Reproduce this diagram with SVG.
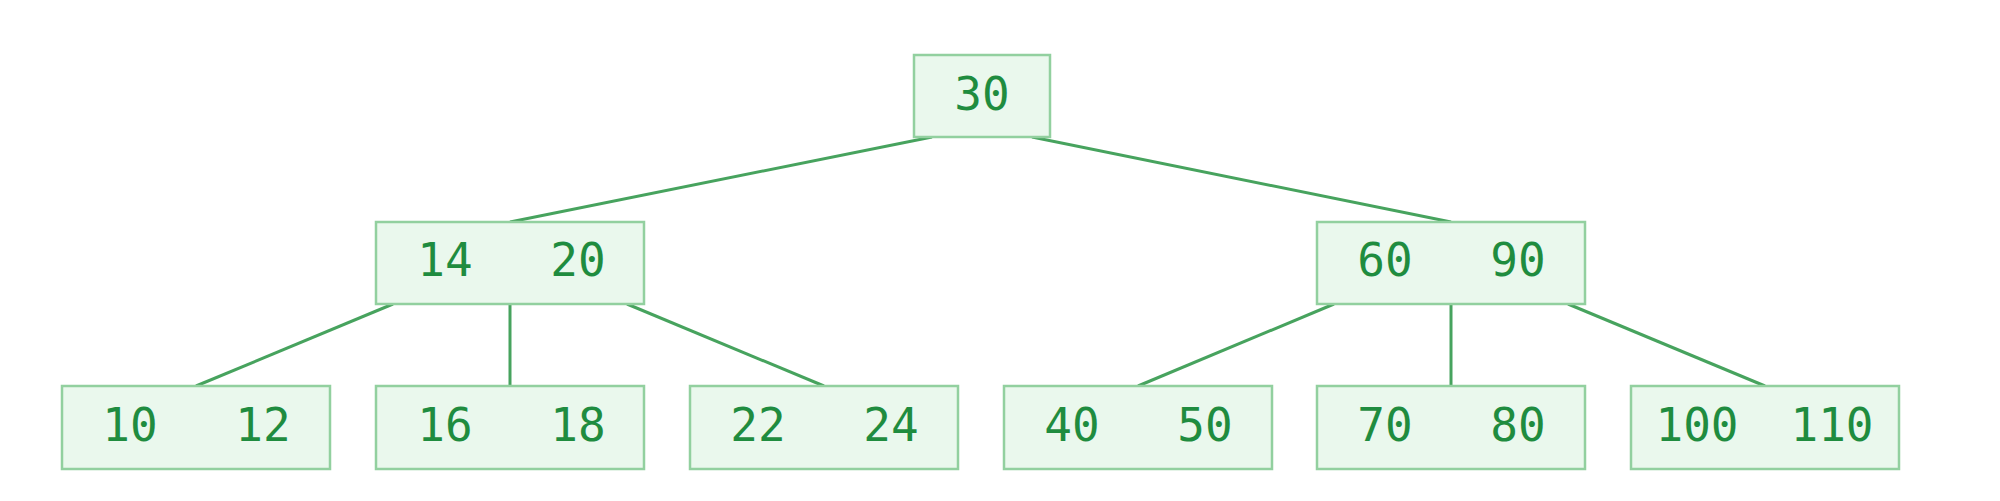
<svg xmlns="http://www.w3.org/2000/svg" width="2000" height="501" viewBox="0 0 2000 501">
<style>
.box{fill:#eaf8ed;stroke:#92d09f;stroke-width:2.5}
.t{font-family:"DejaVu Sans Mono","Liberation Mono",monospace;font-size:46px;fill:#1f8c3f;text-anchor:middle;dominant-baseline:central}
.edge{stroke:#47a35e;stroke-width:3;fill:none}
</style>
<rect width="2000" height="501" fill="#ffffff"/>
<g id="connectors">
<line class="edge" x1="932" y1="137" x2="510" y2="222"/>
<line class="edge" x1="1032" y1="137" x2="1451" y2="222"/>
<line class="edge" x1="393" y1="304" x2="196" y2="386"/>
<line class="edge" x1="510" y1="304" x2="510" y2="386"/>
<line class="edge" x1="627" y1="304" x2="824" y2="386"/>
<line class="edge" x1="1334" y1="304" x2="1138" y2="386"/>
<line class="edge" x1="1451" y1="304" x2="1451" y2="386"/>
<line class="edge" x1="1568" y1="304" x2="1765" y2="386"/>
</g>
<g id="n30"><rect class="box" x="914" y="55" width="136" height="82"/><text class="t" x="982" y="94">30</text></g>
<g id="n14_20"><rect class="box" x="376" y="222" width="268" height="82"/><text class="t" x="445" y="260">14</text><text class="t" x="578" y="260">20</text></g>
<g id="n60_90"><rect class="box" x="1317" y="222" width="268" height="82"/><text class="t" x="1385" y="260">60</text><text class="t" x="1518" y="260">90</text></g>
<g id="n10_12"><rect class="box" x="62" y="386" width="268" height="83"/><text class="t" x="130" y="425">10</text><text class="t" x="263" y="425">12</text></g>
<g id="n16_18"><rect class="box" x="376" y="386" width="268" height="83"/><text class="t" x="445" y="425">16</text><text class="t" x="578" y="425">18</text></g>
<g id="n22_24"><rect class="box" x="690" y="386" width="268" height="83"/><text class="t" x="758" y="425">22</text><text class="t" x="891" y="425">24</text></g>
<g id="n40_50"><rect class="box" x="1004" y="386" width="268" height="83"/><text class="t" x="1072" y="425">40</text><text class="t" x="1205" y="425">50</text></g>
<g id="n70_80"><rect class="box" x="1317" y="386" width="268" height="83"/><text class="t" x="1385" y="425">70</text><text class="t" x="1518" y="425">80</text></g>
<g id="n100_110"><rect class="box" x="1631" y="386" width="268" height="83"/><text class="t" x="1697" y="425">100</text><text class="t" x="1832" y="425">110</text></g>
</svg>
